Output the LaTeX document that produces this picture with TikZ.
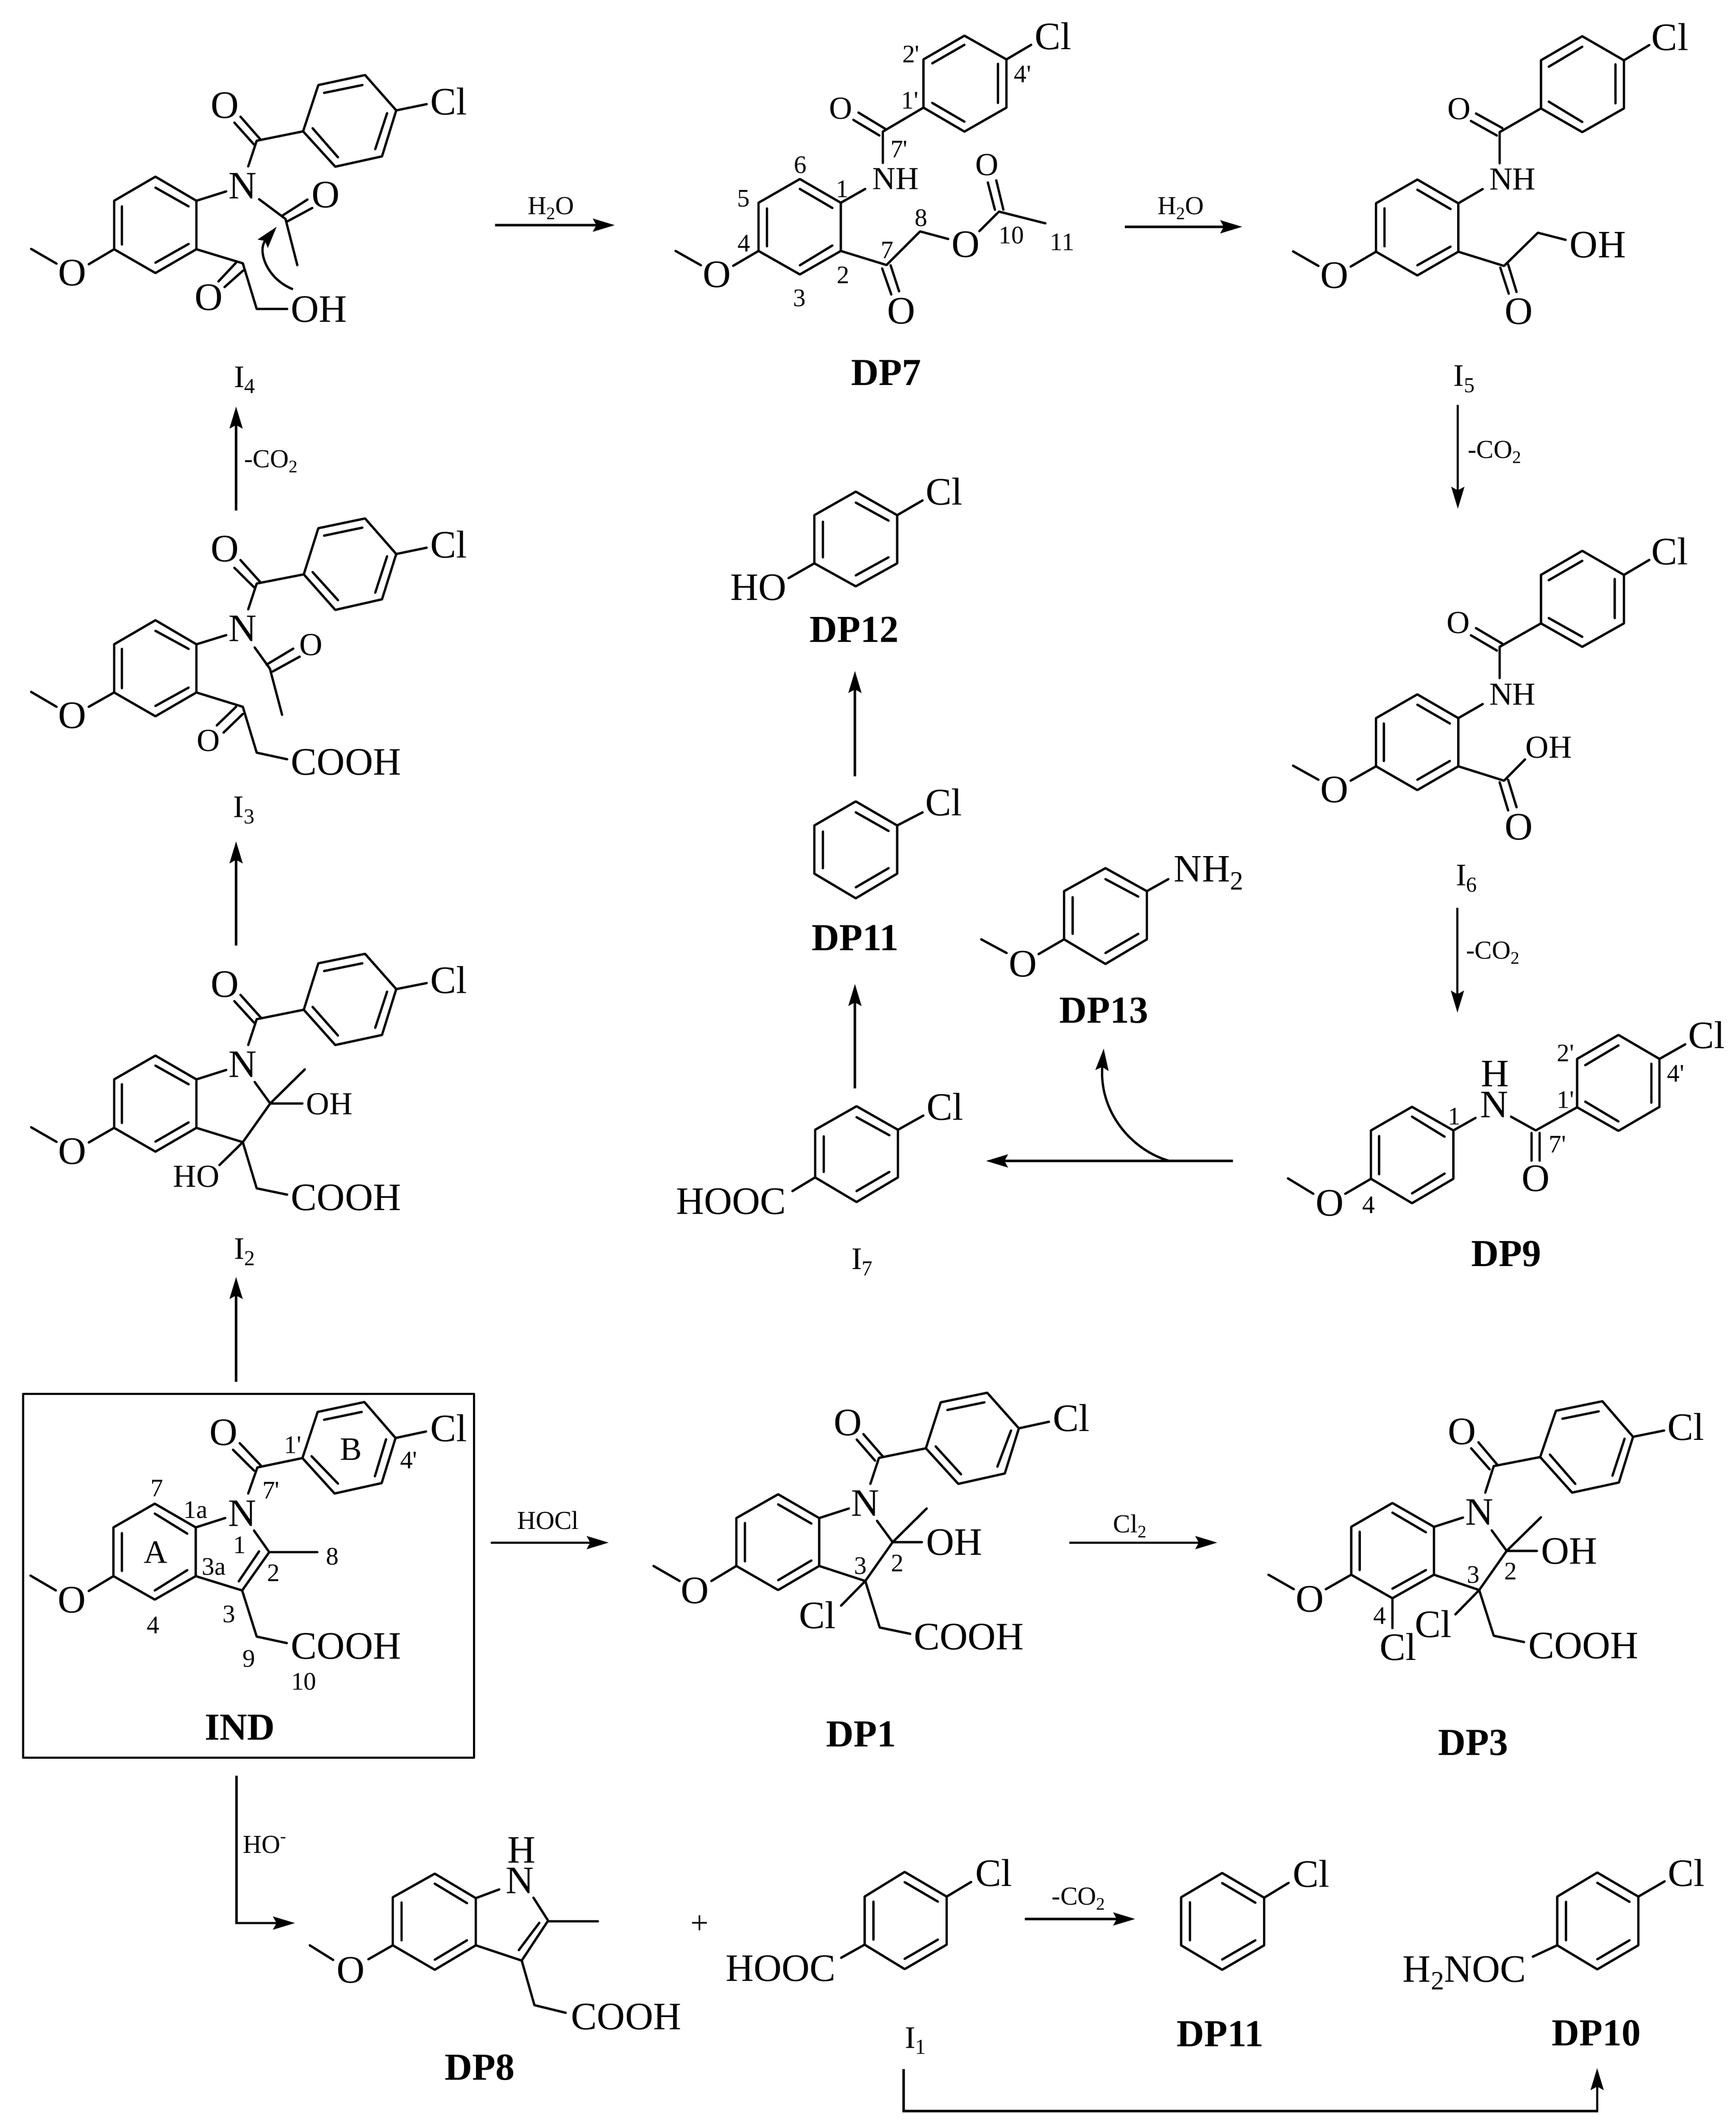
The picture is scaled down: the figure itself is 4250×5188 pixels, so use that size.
\documentclass[tikz,border=0pt]{standalone}
\usepackage{fontspec}
\usepackage{graphicx}
\usetikzlibrary{arrows.meta}
\newfontfamily\tf{Liberation Serif}
\newcommand\sbs[1]{\raisebox{-.2em}{\scalebox{.68}{#1}}}
\newcounter{nd}
\newcommand\tx[4]{\stepcounter{nd}\node[#1] (n\thend) at (#2,#3) {#4};}
\tikzset{
  txt/.style={anchor=base,inner sep=0pt,outer sep=0pt},
  atom/.style={txt,font=\tf\fontsize{28.5}{30}\selectfont},
  atomS/.style={txt,font=\tf\fontsize{23.5}{26}\selectfont},
  ringlab/.style={txt,font=\tf\fontsize{24}{26}\selectfont},
  num/.style={txt,font=\tf\fontsize{18.5}{20}\selectfont},
  reag/.style={txt,font=\tf\fontsize{19}{21}\selectfont},
  intm/.style={txt,font=\tf\fontsize{23}{25}\selectfont},
  lbl/.style={txt,font=\tf\bfseries\fontsize{28}{30}\selectfont},
  bond/.style={line width=1.7pt,line cap=round,line join=round},
  rxn/.style={line width=1.7pt,-{Stealth[length=16pt,width=9.5pt,inset=2.5pt]}},
  crop/.style n args={4}{shift={(#1,#2)},xscale=#3/1568,yscale=#4/1568},
}
\begin{document}
\begin{tikzpicture}[x=.3pt,y=-.3pt]
\path[use as bounding box,fill=white] (0,0) rectangle (4250,5188);

% ---------- IND
\begin{scope}[crop={0}{3350}{1300}{1000}]
\draw[bond] (68,96) rectangle (1400,1492);
\draw[bond] (335,608)--(457,517)--(578,608)--(578,795)--(457,885)--(335,795)--cycle
 (360,630)--(360,775) (457,555)--(553,632) (553,772)--(457,850)
 (335,795)--(262,852) (165,850)--(90,793)
 (578,608)--(665,572) (750,620)--(795,703)--(715,850)--(578,795) (765,700)--(705,815)
 (795,703)--(937,703) (715,850)--(758,1027)--(847,1052)
 (733,478)--(760,378) (750,390)--(688,310) (770,370)--(708,285) (760,378)--(893,342)
 (893,342)--(938,165)--(1076,127)--(1168,265)--(1127,438)--(988,478)--cycle
 (957,195)--(1068,165) (1140,270)--(1107,412) (998,440)--(920,335)
 (1168,265)--(1258,240);
\tx{atom}{715}{603}{N}\tx{atom}{212}{935}{O}\tx{atom}{1022}{1113}{COOH}
\tx{atom}{660}{292}{O}\tx{atom}{1325}{278}{Cl}
\tx{ringlab}{1037}{350}{B}\tx{ringlab}{460}{745}{A}
\tx{num}{463}{490}{7}\tx{num}{578}{573}{1a}\tx{num}{865}{323}{1'}\tx{num}{1207}{382}{4'}
\tx{num}{800}{497}{7'}\tx{num}{708}{707}{1}\tx{num}{808}{815}{2}\tx{num}{632}{790}{3a}
\tx{num}{982}{752}{8}\tx{num}{676}{972}{3}\tx{num}{452}{1015}{4}\tx{num}{735}{1143}{9}
\tx{num}{897}{1232}{10}
\node[lbl] (IND) at (708,1423) {IND};
\end{scope}

% ---------- DP7
\begin{scope}[crop={1600}{0}{1300}{1000}]
\draw[bond] (310,778)--(432,687)--(553,778)--(553,963)--(432,1053)--(310,963)--cycle
 (335,800)--(335,945) (432,725)--(528,798) (528,942)--(432,1018)
 (310,963)--(235,1020) (140,1018)--(65,963)
 (553,778)--(625,725) (677,625)--(677,505) (667,520)--(590,460) (685,495)--(605,432)
 (677,505)--(797,413)
 (797,413)--(797,228)--(918,137)--(1042,228)--(1042,413)--(918,505)--cycle
 (823,243)--(918,172) (1017,245)--(1017,395) (918,467)--(823,395)
 (1042,228)--(1115,172)
 (553,963)--(688,1017)--(787,888)--(870,917) (962,887)--(1020,812)
 (1008,805)--(987,700) (1033,805)--(1012,692) (1020,812)--(1157,857)
 (675,1030)--(702,1130) (700,1018)--(725,1118);
\tx{atom}{187}{1102}{O}\tx{atomS}{715}{727}{NH}\tx{atomS}{553}{457}{O}\tx{atom}{1180}{190}{Cl}
\tx{atom}{922}{987}{O}\tx{atomS}{985}{672}{O}\tx{atom}{732}{1243}{O}
\tx{num}{760}{240}{2'}\tx{num}{757}{417}{1'}\tx{num}{1090}{317}{4'}\tx{num}{725}{605}{7'}
\tx{num}{433}{665}{6}\tx{num}{266}{793}{5}\tx{num}{557}{757}{1}\tx{num}{267}{965}{4}
\tx{num}{560}{1087}{2}\tx{num}{431}{1175}{3}\tx{num}{690}{992}{7}\tx{num}{790}{868}{8}
\tx{num}{1057}{935}{10}\tx{num}{1207}{960}{11}
\node[lbl] (DP7) at (687,1478) {DP7};
\end{scope}

% ---------- DP9
\begin{scope}[crop={3000}{2400}{1250}{800}]
\draw[bond] (447,718)--(573,605)--(700,718)--(700,950)--(573,1067)--(447,950)--cycle
 (472,745)--(472,928) (573,652)--(673,748) (673,925)--(573,1020)
 (447,950)--(368,1022) (270,1022)--(192,948)
 (700,718)--(768,658) (877,652)--(953,718)--(1080,607)
 (940,730)--(940,863) (965,730)--(965,863)
 (1080,607)--(1080,375)--(1207,260)--(1333,375)--(1333,605)--(1207,720)--cycle
 (1105,405)--(1207,310) (1308,398)--(1308,585) (1207,675)--(1105,580)
 (1333,375)--(1412,305);
\tx{atom}{320}{1127}{O}\tx{atom}{825}{655}{N}\tx{atom}{828}{508}{H}\tx{atom}{953}{1010}{O}
\tx{atom}{1478}{325}{Cl}
\tx{num}{440}{1115}{4}\tx{num}{703}{690}{1}\tx{num}{1045}{388}{2'}\tx{num}{1045}{612}{1'}
\tx{num}{1383}{485}{4'}\tx{num}{1020}{825}{7'}
\node[lbl] (DP9) at (862,1370) {DP9};
\end{scope}

% ---------- I4
\begin{scope}[crop={0}{0}{1300}{1200}]
\draw[bond] (337,642)--(459,565)--(580,642)--(580,797)--(459,873)--(337,797)--cycle
 (360,660)--(360,782) (459,600)--(557,660) (557,780)--(459,840)
 (337,797)--(262,845) (167,843)--(92,796)
 (580,642)--(668,612) (733,532)--(758,450) (750,462)--(692,392) (770,447)--(710,373)
 (758,450)--(895,420)
 (895,420)--(940,272)--(1078,240)--(1170,353)--(1128,500)--(990,533)--cycle
 (957,297)--(1070,272) (1143,362)--(1108,477) (998,503)--(923,410)
 (1170,353)--(1260,333)
 (765,637)--(843,700) (833,690)--(908,638) (845,710)--(922,665) (843,700)--(878,848)
 (580,797)--(717,842)--(758,988)--(848,988) (697,840)--(645,900) (718,865)--(663,918);
\draw[rxn] (865,925) .. controls (785,890) and (760,800) .. (817,725);
\tx{atom}{214}{913}{O}\tx{atom}{717}{635}{N}\tx{atom}{664}{378}{O}\tx{atom}{1325}{367}{Cl}
\tx{atom}{962}{663}{O}\tx{atom}{942}{1030}{OH}\tx{atom}{616}{992}{O}
\node[intm] (I4) at (722,1238) {I\sbs{4}};
\end{scope}

% ---------- I3
\begin{scope}[crop={0}{1200}{1300}{1100}]
\draw[bond] (337,537)--(459,453)--(580,537)--(580,705)--(459,788)--(337,705)--cycle
 (360,553)--(360,690) (459,490)--(557,553) (557,688)--(459,752)
 (337,705)--(262,755) (167,755)--(92,703)
 (580,537)--(668,505) (733,415)--(758,325) (750,338)--(692,270) (770,322)--(710,243)
 (758,325)--(897,293)
 (897,293)--(940,132)--(1078,98)--(1170,222)--(1128,380)--(990,417)--cycle
 (957,158)--(1070,130) (1143,230)--(1108,357) (998,383)--(923,285)
 (1170,222)--(1260,200)
 (752,548)--(797,622) (787,608)--(866,552) (805,632)--(885,580) (797,622)--(833,783)
 (580,705)--(717,755)--(758,915)--(848,938) (697,755)--(640,820) (717,780)--(660,845);
\tx{atom}{214}{830}{O}\tx{atom}{717}{527}{N}\tx{atom}{664}{248}{O}\tx{atom}{1325}{235}{Cl}
\tx{atomS}{918}{575}{O}\tx{atom}{1022}{993}{COOH}\tx{atomS}{615}{910}{O}
\node[intm] (I3) at (720,1140) {I\sbs{3}};
\end{scope}

% ---------- I2
\begin{scope}[crop={0}{2250}{1300}{1100}]
\draw[bond] (337,558)--(459,475)--(580,558)--(580,727)--(459,810)--(337,727)--cycle
 (360,575)--(360,710) (459,510)--(557,575) (557,708)--(459,775)
 (337,727)--(262,778) (167,776)--(92,725)
 (580,558)--(668,525) (733,438)--(758,348) (750,360)--(692,285) (770,342)--(710,263)
 (758,348)--(897,315)
 (897,315)--(940,153)--(1078,120)--(1170,243)--(1128,403)--(990,438)--cycle
 (957,180)--(1070,153) (1143,252)--(1108,378) (998,405)--(923,305)
 (1170,243)--(1260,222)
 (752,567)--(798,642)--(717,777)--(580,727) (798,642)--(900,523) (798,642)--(893,642)
 (717,777)--(648,857) (717,777)--(758,938)--(848,960);
\tx{atom}{214}{853}{O}\tx{atom}{717}{550}{N}\tx{atom}{664}{270}{O}\tx{atom}{1325}{258}{Cl}
\tx{atomS}{973}{680}{OH}\tx{atomS}{580}{933}{HO}\tx{atom}{1022}{1015}{COOH}
\node[intm] (I2) at (722,1185) {I\sbs{2}};
\end{scope}

% ---------- I5
\begin{scope}[crop={2950}{0}{1300}{1300}]
\draw[bond] (505,600)--(627,530)--(748,600)--(748,743)--(627,813)--(505,743)--cycle
 (530,615)--(530,727) (627,560)--(725,617) (725,728)--(627,783)
 (505,743)--(430,787) (335,785)--(260,742)
 (748,600)--(820,558) (870,482)--(870,390) (862,400)--(785,357) (878,378)--(800,335)
 (870,390)--(992,320)
 (992,320)--(992,178)--(1114,107)--(1237,178)--(1237,320)--(1114,390)--cycle
 (1015,197)--(1114,138) (1212,190)--(1212,305) (1114,360)--(1015,300)
 (1237,178)--(1312,133)
 (748,743)--(883,785)--(983,687)--(1065,708) (872,790)--(897,867) (895,780)--(920,862);
\tx{atom}{382}{850}{O}\tx{atomS}{908}{560}{NH}\tx{atomS}{750}{352}{O}\tx{atom}{1373}{148}{Cl}
\tx{atom}{1160}{760}{OH}\tx{atom}{927}{957}{O}
\node[intm] (I5) at (765,1140) {I\sbs{5}};
\node[reag] (co5) at (855,1352) {-CO\sbs{2}};
\end{scope}

% ---------- I6
\begin{scope}[crop={2950}{1250}{1300}{1200}]
\draw[bond] (505,663)--(627,587)--(748,663)--(748,817)--(627,893)--(505,817)--cycle
 (528,680)--(528,800) (627,620)--(723,680) (723,800)--(627,860)
 (505,817)--(430,863) (335,860)--(260,815)
 (748,663)--(820,618) (870,535)--(870,435) (862,447)--(785,398) (878,425)--(800,375)
 (870,435)--(992,360)
 (992,360)--(992,205)--(1114,128)--(1237,205)--(1237,360)--(1114,435)--cycle
 (1015,222)--(1114,160) (1210,218)--(1210,343) (1114,403)--(1015,343)
 (1237,205)--(1312,157)
 (748,817)--(883,863)--(945,795) (870,868)--(895,958) (895,860)--(920,948);
\tx{atom}{382}{933}{O}\tx{atomS}{908}{620}{NH}\tx{atomS}{748}{392}{O}\tx{atom}{1372}{172}{Cl}
\tx{atomS}{1015}{790}{OH}\tx{atom}{927}{1052}{O}
\node[intm] (I6) at (772,1198) {I\sbs{6}};
\node[reag] (co6) at (850,1433) {-CO\sbs{2}};
\end{scope}

% ---------- DP12, DP11, DP13, I7
\begin{scope}[crop={1500}{1100}{1500}{2100}]
\draw[bond] (516,120)--(622,77)--(728,120)--(728,208)--(622,250)--(516,208)--cycle
 (538,132)--(538,197) (622,97)--(706,130) (706,197)--(622,230)
 (728,120)--(793,93) (516,208)--(450,235)
 (516,687)--(622,643)--(728,687)--(728,775)--(622,820)--(516,775)--cycle
 (538,698)--(538,765) (622,663)--(706,697) (706,765)--(622,800) (728,687)--(793,663)
 (1155,807)--(1261,765)--(1367,807)--(1367,895)--(1261,940)--(1155,895)--cycle
 (1177,818)--(1177,885) (1261,785)--(1345,817) (1345,885)--(1261,920)
 (1367,807)--(1422,785) (1155,895)--(1090,922) (1008,920)--(943,895)
 (518,1243)--(624,1200)--(730,1243)--(730,1330)--(624,1375)--(518,1330)--cycle
 (540,1255)--(540,1320) (624,1220)--(708,1253) (708,1320)--(624,1355)
 (730,1243)--(795,1217) (518,1330)--(460,1355);
\tx{atom}{848}{101}{Cl}\tx{atom}{373}{275}{HO}\tx{atom}{847}{669}{Cl}
\tx{atom}{1525}{790}{NH\sbs{2}}\tx{atom}{1050}{963}{O}
\tx{atom}{850}{1225}{Cl}\tx{atom}{303}{1397}{HOOC}
\node[lbl] (DP12) at (618,352) {DP12};
\node[lbl] (DP11a) at (621,915) {DP11};
\node[lbl] (DP13) at (1257,1048) {DP13};
\node[intm] (I7) at (638,1498) {I\sbs{7}};
\end{scope}

% ---------- DP1
\begin{scope}[crop={1200}{3350}{1500}{1050}]
\draw[bond] (630,545)--(737,458)--(842,545)--(842,720)--(737,808)--(630,720)--cycle
 (652,563)--(652,703) (737,495)--(822,565) (822,700)--(737,772)
 (630,720)--(566,775) (485,775)--(418,720)
 (842,545)--(918,510) (973,420)--(995,325) (1005,320)--(955,238) (985,335)--(938,258)
 (995,325)--(1115,290)
 (1115,290)--(1153,122)--(1272,87)--(1353,217)--(1317,382)--(1198,420)--cycle
 (1170,150)--(1265,122) (1333,225)--(1298,357) (1205,385)--(1140,283)
 (1353,217)--(1430,193)
 (990,555)--(1030,633)--(960,775)--(842,720) (1030,633)--(1117,510) (1030,633)--(1105,633)
 (960,775)--(898,865) (960,775)--(997,945)--(1075,968);
\tx{atom}{524}{857}{O}\tx{atom}{960}{538}{N}\tx{atom}{915}{243}{O}\tx{atom}{1487}{228}{Cl}
\tx{atom}{1188}{680}{OH}\tx{atom}{838}{948}{Cl}\tx{atom}{1225}{1025}{COOH}
\tx{num}{948}{750}{3}\tx{num}{1042}{740}{2}
\node[reag] (hocl) at (148,585) {HOCl};
\node[lbl] (DP1) at (950,1380) {DP1};
\end{scope}

% ---------- DP3
\begin{scope}[crop={2700}{3350}{1550}{1050}]
\draw[bond] (615,577)--(717,490)--(820,577)--(820,752)--(717,838)--(615,752)--cycle
 (636,595)--(636,735) (717,525)--(800,597) (800,735)--(717,803)
 (615,752)--(552,805) (473,805)--(410,752)
 (820,577)--(892,543) (947,452)--(968,355) (958,367)--(912,290) (978,352)--(930,268)
 (968,355)--(1083,322)
 (1083,322)--(1122,153)--(1237,118)--(1313,248)--(1278,415)--(1162,452)--cycle
 (1138,182)--(1228,155) (1292,255)--(1262,390) (1170,420)--(1107,313)
 (1313,248)--(1390,225)
 (963,590)--(1000,665)--(932,808)--(820,752) (1000,665)--(1085,542) (1000,665)--(1075,665)
 (932,808)--(873,897) (932,808)--(968,975)--(1043,998) (717,838)--(717,947);
\tx{atom}{513}{888}{O}\tx{atom}{932}{570}{N}\tx{atom}{889}{275}{O}\tx{atom}{1444}{260}{Cl}
\tx{atom}{1155}{712}{OH}\tx{atom}{818}{980}{Cl}\tx{atom}{1190}{1058}{COOH}\tx{atom}{731}{1065}{Cl}
\tx{num}{686}{932}{4}\tx{num}{918}{782}{3}\tx{num}{1010}{770}{2}
\node[reag] (cl2) at (67,598) {Cl\sbs{2}};
\node[lbl] (DP3) at (917,1412) {DP3};
\end{scope}

% ---------- bottom row
\begin{scope}[crop={500}{4350}{3750}{838}]
\draw[bond] (193,548)--(236,440)--(278,552)--(278,768)--(236,880)--(193,768)--cycle
 (202,572)--(202,745) (236,486)--(269,575) (269,745)--(236,834)
 (278,552)--(302,512) (337,550)--(352,655)--(325,838)--(278,768) (343,665)--(322,790)
 (352,658)--(403,658) (325,838)--(338,1042)--(370,1077)
 (193,768)--(168,832) (132,835)--(108,768)
 (676,545)--(717,432)--(760,545)--(760,765)--(717,877)--(676,765)--cycle
 (685,568)--(685,742) (717,479)--(751,568) (751,742)--(717,830)
 (760,545)--(785,478) (676,765)--(652,825)
 (1000,548)--(1042,437)--(1085,550)--(1085,768)--(1042,880)--(1000,768)--cycle
 (1009,571)--(1009,745) (1042,483)--(1076,573) (1076,745)--(1042,833) (1085,550)--(1110,482)
 (1385,545)--(1426,435)--(1468,545)--(1468,768)--(1426,878)--(1385,768)--cycle
 (1394,569)--(1394,745) (1426,482)--(1459,569) (1459,745)--(1426,832)
 (1468,545)--(1495,475) (1385,768)--(1360,820);
\tx{atom}{325}{390}{H}\tx{atom}{323}{530}{N}\tx{atom}{432}{1153}{COOH}\tx{atom}{150}{940}{O}
\tx{atom}{808}{497}{Cl}\tx{atom}{590}{933}{HOOC}\tx{atom}{1133}{502}{Cl}\tx{atom}{1517}{497}{Cl}
\tx{atom}{1290}{935}{H\sbs{2}NOC}
\node[reag] (ho) at (62,345) {HO\raisebox{.42em}{\scalebox{.68}{-}}};
\node[reag] (co1) at (895,582) {-CO\sbs{2}};
\node[atomS] (plus) at (507,715) {+};
\node[intm] (I1) at (728,1238) {I\sbs{1}};
\node[lbl] (DP11b) at (1040,1232) {DP11};
\node[lbl] (DP10) at (1425,1228) {DP10};
\node[lbl] (DP8) at (282,1385) {DP8};
\end{scope}

% ---------- H2O labels and -CO2 on the left
\node[reag] (wa) at (1349,524) {H\sbs{2}O};
\node[reag] (wb) at (2891,524) {H\sbs{2}O};
\node[reag] (co4) at (663,1144) {-CO\sbs{2}};

% ---------- reaction arrows
\coordinate (a1s) at (578,3381); \coordinate (a1e) at (578,3125);
\coordinate (a2s) at (578,2314); \coordinate (a2e) at (578,2059);
\coordinate (a3s) at (578,1249); \coordinate (a3e) at (578,995);
\coordinate (a4s) at (1212,551); \coordinate (a4e) at (1505,551);
\coordinate (a5s) at (2754,555); \coordinate (a5e) at (3041,555);
\coordinate (a6s) at (3569,991); \coordinate (a6e) at (3569,1245);
\coordinate (a7s) at (3568,2221); \coordinate (a7e) at (3568,2478);
\coordinate (a8s) at (3018,2841); \coordinate (a8e) at (2414,2841);
\coordinate (a9s) at (2863,2841); \coordinate (a9e) at (2702,2566);
\coordinate (a10s) at (2093,1900); \coordinate (a10e) at (2093,1642);
\coordinate (a11s) at (2093,2663); \coordinate (a11e) at (2093,2408);
\coordinate (a12s) at (1202,3775); \coordinate (a12e) at (1490,3775);
\coordinate (a13s) at (2618,3775); \coordinate (a13e) at (2980,3775);
\coordinate (a14s) at (579,4345); \coordinate (a14m) at (579,4706); \coordinate (a14e) at (722,4706);
\coordinate (a15s) at (2509,4696); \coordinate (a15e) at (2779,4696);
\coordinate (a16s) at (2212,5063); \coordinate (a16m) at (2212,5166); \coordinate (a16n) at (3910,5166); \coordinate (a16e) at (3910,5061);
\foreach \p/\q in {a1s/a1e,a2s/a2e,a3s/a3e,a4s/a4e,a5s/a5e,a6s/a6e,a7s/a7e,a8s/a8e,a10s/a10e,a11s/a11e,a12s/a12e,a13s/a13e,a15s/a15e}
  \draw[rxn] (\p) -- (\q);
\draw[rxn] (a9s) .. controls (2770,2815) and (2690,2720) .. (a9e);
\draw[rxn] (a14s) -- (a14m) -- (a14e);
\draw[rxn] (a16s) -- (a16m) -- (a16n) -- (a16e);
\end{tikzpicture}
\end{document}
